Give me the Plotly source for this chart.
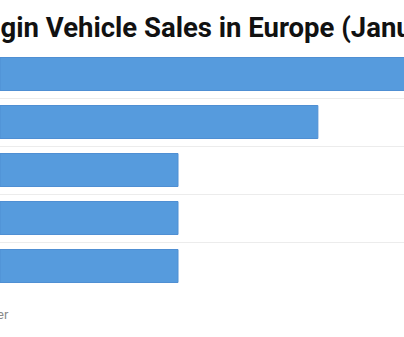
import plotly.graph_objects as go

# Data (categories top -> bottom)
models = ["Nissan Leaf", "Renault Zoe", "BMW i3", "Mitsubishi Outlander PHEV", "Hyundai Kona EV"]
sales = [4000, 2500, 1400, 1400, 1400]

title_text = "Top 5 Plugin Vehicle Sales in Europe (January 2019)"
source_text = "Source: EV Volumes / InsideEVs Tracker"

W, H = 404, 337
fig = go.Figure(
    go.Bar(
        x=sales,
        y=models,
        orientation="h",
        marker=dict(color="#569bdd", line=dict(color="#4f8fd3", width=1)),
        hoverinfo="x+y",
    )
)

fig.update_layout(
    width=W,
    height=H,
    margin=dict(l=0, r=0, t=50, b=47),
    paper_bgcolor="white",
    plot_bgcolor="white",
    bargap=0.3125,
    showlegend=False,
    font=dict(family="Roboto, Arial, sans-serif"),
    xaxis=dict(range=[0, 3177.5], visible=False, fixedrange=True),
    yaxis=dict(
        type="category",
        categoryorder="array",
        categoryarray=models[::-1],
        tickson="boundaries",
        showgrid=True,
        gridcolor="#ececec",
        gridwidth=1,
        showticklabels=False,
        ticks="",
        zeroline=False,
        showline=False,
    ),
    annotations=[
        dict(
            text="<b>" + title_text + "</b>",
            xref="paper", yref="paper",
            x=-0.2895, y=1.093,
            xanchor="left", yanchor="middle",
            showarrow=False,
            font=dict(size=27.5, color="#111111", family="Roboto"),
        ),
        dict(
            text=source_text,
            xref="paper", yref="paper",
            x=11 / W, y=-0.1,
            xanchor="right", yanchor="middle",
            showarrow=False,
            font=dict(size=13, color="#8a8a8a", family="Roboto"),
        ),
    ],
)

fig.write_html("out.html", config={"displayModeBar": False})
